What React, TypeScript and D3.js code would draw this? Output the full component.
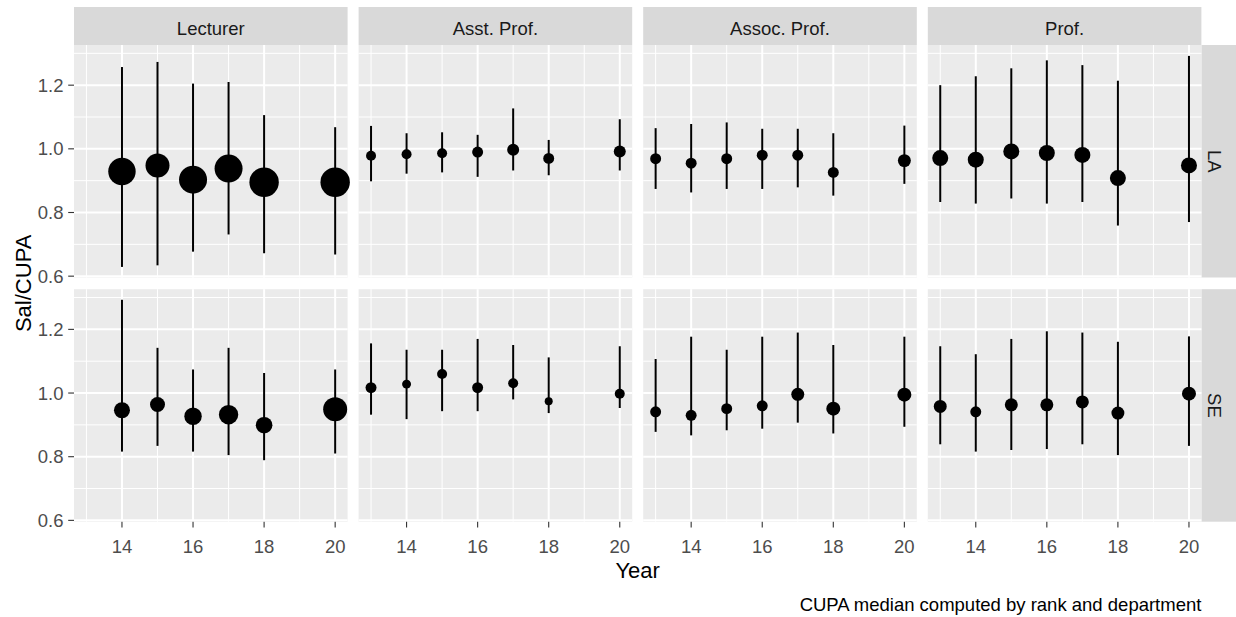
import React from 'react'
import * as d3 from 'd3'

const ranks = ['Lecturer', 'Asst. Prof.', 'Assoc. Prof.', 'Prof.']
const depts = ['LA', 'SE']
const lecturerYears = [14, 15, 16, 17, 18, 20]
const facultyYears = [13, 14, 15, 16, 17, 18, 20]
const xTicks = [14, 16, 18, 20]
const yTicks = [0.6, 0.8, 1.0, 1.2]

// median Sal/CUPA, one row per rank
const medLA = [
  [0.929, 0.948, 0.903, 0.938, 0.895, 0.895],
  [0.978, 0.983, 0.986, 0.990, 0.997, 0.970, 0.992],
  [0.969, 0.955, 0.969, 0.980, 0.980, 0.926, 0.963],
  [0.971, 0.966, 0.992, 0.987, 0.981, 0.908, 0.948]
]
const loLA = [
  [0.629, 0.634, 0.677, 0.731, 0.672, 0.668],
  [0.898, 0.922, 0.926, 0.912, 0.932, 0.917, 0.932],
  [0.874, 0.863, 0.874, 0.874, 0.879, 0.853, 0.890],
  [0.833, 0.828, 0.844, 0.828, 0.833, 0.759, 0.770]
]
const hiLA = [
  [1.257, 1.273, 1.205, 1.210, 1.106, 1.068],
  [1.072, 1.049, 1.052, 1.044, 1.127, 1.028, 1.093],
  [1.065, 1.078, 1.083, 1.063, 1.063, 1.049, 1.073],
  [1.200, 1.228, 1.253, 1.278, 1.263, 1.214, 1.292]
]
const nLA = [
  [188, 144, 196, 196, 216, 216],
  [25, 25, 25, 30, 36, 30, 36],
  [30, 30, 30, 30, 30, 30, 42],
  [64, 64, 64, 64, 64, 64, 64]
]

const medSE = [
  [0.946, 0.964, 0.927, 0.932, 0.899, 0.949],
  [1.017, 1.028, 1.060, 1.017, 1.031, 0.974, 0.998],
  [0.941, 0.930, 0.951, 0.960, 0.996, 0.951, 0.995],
  [0.958, 0.941, 0.963, 0.963, 0.972, 0.937, 0.998]
]
const loSE = [
  [0.816, 0.834, 0.816, 0.805, 0.789, 0.810],
  [0.932, 0.918, 0.943, 0.943, 0.980, 0.937, 0.953],
  [0.878, 0.867, 0.883, 0.888, 0.907, 0.873, 0.894],
  [0.839, 0.816, 0.821, 0.824, 0.839, 0.805, 0.834]
]
const hiSE = [
  [1.293, 1.142, 1.074, 1.142, 1.063, 1.074],
  [1.156, 1.136, 1.136, 1.170, 1.151, 1.112, 1.147],
  [1.107, 1.177, 1.136, 1.177, 1.190, 1.151, 1.177],
  [1.147, 1.122, 1.170, 1.194, 1.190, 1.161, 1.178]
]
const nSE = [
  [64, 56, 76, 94, 69, 144],
  [30, 20, 25, 30, 25, 16, 25],
  [30, 30, 30, 30, 42, 49, 49],
  [42, 30, 42, 42, 42, 42, 49]
]

const W = 1236
const H = 617
const font = '"Liberation Sans", Arial, sans-serif'

const left = 74
const panelW = 273.6
const gapX = 11
const top = 45
const panelH = 232.5
const gapY = 11.7
const stripH = 38
const small = 18.5
const big = 22

function App() {
  const series = [
    {med: medLA, lo: loLA, hi: hiLA, n: nLA},
    {med: medSE, lo: loSE, hi: hiSE, n: nSE}
  ]

  const allLo = d3.min(series.flatMap(s => s.lo.flat())) as number
  const allHi = d3.max(series.flatMap(s => s.hi.flat())) as number
  const padY = (allHi - allLo) * 0.05
  const xMin = 13, xMax = 20
  const padX = (xMax - xMin) * 0.05

  const x = d3.scaleLinear().domain([xMin - padX, xMax + padX]).range([0, panelW])
  const y = d3.scaleLinear().domain([allLo - padY, allHi + padY]).range([panelH, 0])
  const r = d3.scaleSqrt().domain([0, 216]).range([0, 14.7])

  const minorX = [13, 15, 17, 19]
  const minorY = [0.7, 0.9, 1.1, 1.3].filter(v => v <= y.domain()[1])
  const panelsRight = left + 4 * panelW + 3 * gapX

  return (
    <svg width={W} height={H} style={{position: 'fixed', left: 0, top: 0, background: '#fff'}} fontFamily={font}>
      {/* top strips */}
      {ranks.map((rank, i) => {
        const px = left + i * (panelW + gapX)
        return (
          <g key={rank} transform={`translate(${px},${top - stripH})`}>
            <rect width={panelW} height={stripH} fill="#D9D9D9" />
            <text x={panelW / 2} y={28} textAnchor="middle" fontSize={small} fill="#1A1A1A">{rank}</text>
          </g>
        )
      })}

      {depts.map((dept, row) => {
        const py = top + row * (panelH + gapY)
        const s = series[row]
        return (
          <g key={dept}>
            {/* right strip */}
            <g transform={`translate(${panelsRight},${py})`}>
              <rect width={W - panelsRight} height={panelH} fill="#D9D9D9" />
              <text transform={`translate(7,${panelH / 2}) rotate(90)`} textAnchor="middle" fontSize={small} fill="#1A1A1A">{dept}</text>
            </g>

            {ranks.map((rank, i) => {
              const px = left + i * (panelW + gapX)
              const years = i === 0 ? lecturerYears : facultyYears
              return (
                <g key={rank} transform={`translate(${px},${py})`}>
                  <rect width={panelW} height={panelH} fill="#EBEBEB" />
                  {minorY.map(v => <line key={'my' + v} x1={0} x2={panelW} y1={y(v)} y2={y(v)} stroke="#fff" strokeWidth={1} />)}
                  {minorX.map(v => <line key={'mx' + v} x1={x(v)} x2={x(v)} y1={0} y2={panelH} stroke="#fff" strokeWidth={1} />)}
                  {yTicks.map(v => <line key={'y' + v} x1={0} x2={panelW} y1={y(v)} y2={y(v)} stroke="#fff" strokeWidth={2} />)}
                  {xTicks.map(v => <line key={'x' + v} x1={x(v)} x2={x(v)} y1={0} y2={panelH} stroke="#fff" strokeWidth={2} />)}

                  {years.map((yr, j) => (
                    <g key={yr}>
                      <line x1={x(yr)} x2={x(yr)} y1={y(s.lo[i][j])} y2={y(s.hi[i][j])} stroke="#000" strokeWidth={2} />
                      <circle cx={x(yr)} cy={y(s.med[i][j])} r={r(s.n[i][j])} fill="#000" />
                    </g>
                  ))}

                  {/* y axis on first column */}
                  {i === 0 && yTicks.map(v => (
                    <g key={'ya' + v} transform={`translate(0,${y(v)})`}>
                      <line x1={-5.8} x2={0} stroke="#333" strokeWidth={1.1} />
                      <text x={-10.5} dy={6.6} textAnchor="end" fontSize={small} fill="#4D4D4D">{v.toFixed(1)}</text>
                    </g>
                  ))}

                  {/* x axis on bottom row */}
                  {row === 1 && xTicks.map(v => (
                    <g key={'xa' + v} transform={`translate(${x(v)},${panelH})`}>
                      <line y1={0} y2={5.8} stroke="#333" strokeWidth={1.1} />
                      <text y={31} textAnchor="middle" fontSize={small} fill="#4D4D4D">{v}</text>
                    </g>
                  ))}
                </g>
              )
            })}
          </g>
        )
      })}

      <text x={(left + panelsRight) / 2} y={578} textAnchor="middle" fontSize={big} fill="#000">Year</text>
      <text transform={`translate(31,${top + panelH + gapY / 2}) rotate(-90)`} textAnchor="middle" fontSize={big} fill="#000">Sal/CUPA</text>
      <text x={panelsRight} y={611} textAnchor="end" fontSize={small} fill="#000">CUPA median computed by rank and department</text>
    </svg>
  )
}

export default App
